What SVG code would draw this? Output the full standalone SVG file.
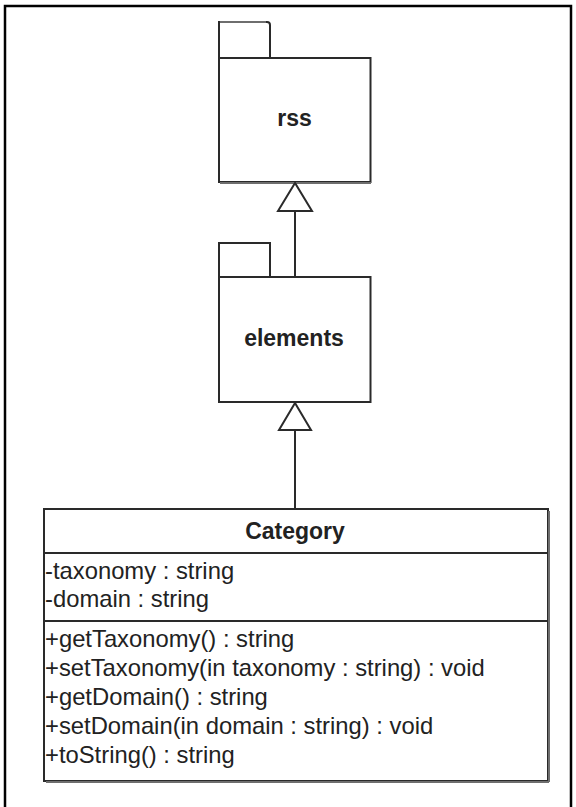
<svg xmlns="http://www.w3.org/2000/svg" width="576" height="807" viewBox="0 0 576 807">
  <style>
    .frame { fill: #ffffff; stroke: #000000; stroke-width: 2.5; }
    .shape { fill: #ffffff; stroke: #2a2a2a; stroke-width: 2; }
    .shadow { fill: none; stroke: #6e6e6e; stroke-width: 2; }
    .edge { fill: none; stroke: #2a2a2a; stroke-width: 2; }
    .head { fill: #ffffff; stroke: #2a2a2a; stroke-width: 2; stroke-linejoin: miter; }
    .title { font-family: "Liberation Sans", Arial, sans-serif; font-size: 23px; font-weight: bold; fill: #222222; text-anchor: middle; }
    .member { font-family: "Liberation Sans", Arial, sans-serif; font-size: 23.8px; fill: #222222; }
  </style>

  <!-- page frame (bottom edge runs off the canvas) -->
  <rect class="frame" x="5" y="6" width="566" height="810"/>

  <!-- package: rss -->
  <g id="pkg-rss">
    <path class="shape" d="M219,58 V22 H267 Q270,22 270,25 V58"/>
    <line class="shadow" x1="220" y1="22" x2="266" y2="22"/>
    <rect class="shape" x="219" y="58" width="151.5" height="124"/>
    <line class="shadow" x1="220" y1="183" x2="371" y2="183"/>
    <text class="title" x="294.5" y="126">rss</text>
  </g>

  <!-- package: elements -->
  <g id="pkg-elements">
    <rect class="shape" x="219" y="243" width="51" height="34"/>
    <rect class="shape" x="219" y="277" width="151.5" height="125"/>
    <text class="title" x="294" y="346">elements</text>
  </g>

  <!-- class: Category -->
  <g id="cls-category">
    <rect class="shape" x="44" y="509" width="504" height="272"/>
    <line class="shadow" x1="549" y1="511" x2="549" y2="782"/>
    <line class="shadow" x1="46" y1="782" x2="549" y2="782"/>
    <line class="edge" x1="44" y1="553" x2="548" y2="553"/>
    <line class="edge" x1="44" y1="621" x2="548" y2="621"/>
    <text class="title" x="295" y="539">Category</text>
    <text class="member" x="45" y="579">-taxonomy : string</text>
    <text class="member" x="45" y="607">-domain : string</text>
    <text class="member" x="45" y="647">+getTaxonomy() : string</text>
    <text class="member" x="45" y="676">+setTaxonomy(in taxonomy : string) : void</text>
    <text class="member" x="45" y="705">+getDomain() : string</text>
    <text class="member" x="45" y="734">+setDomain(in domain : string) : void</text>
    <text class="member" x="45" y="763">+toString() : string</text>
  </g>

  <!-- generalization connectors -->
  <g id="connectors">
    <line class="edge" x1="295" y1="211" x2="295" y2="277"/>
    <polygon class="head" points="295,183 278,211 312,211"/>
    <line class="edge" x1="295" y1="430" x2="295" y2="509"/>
    <polygon class="head" points="295,403 279,430 311,430"/>
  </g>
</svg>
